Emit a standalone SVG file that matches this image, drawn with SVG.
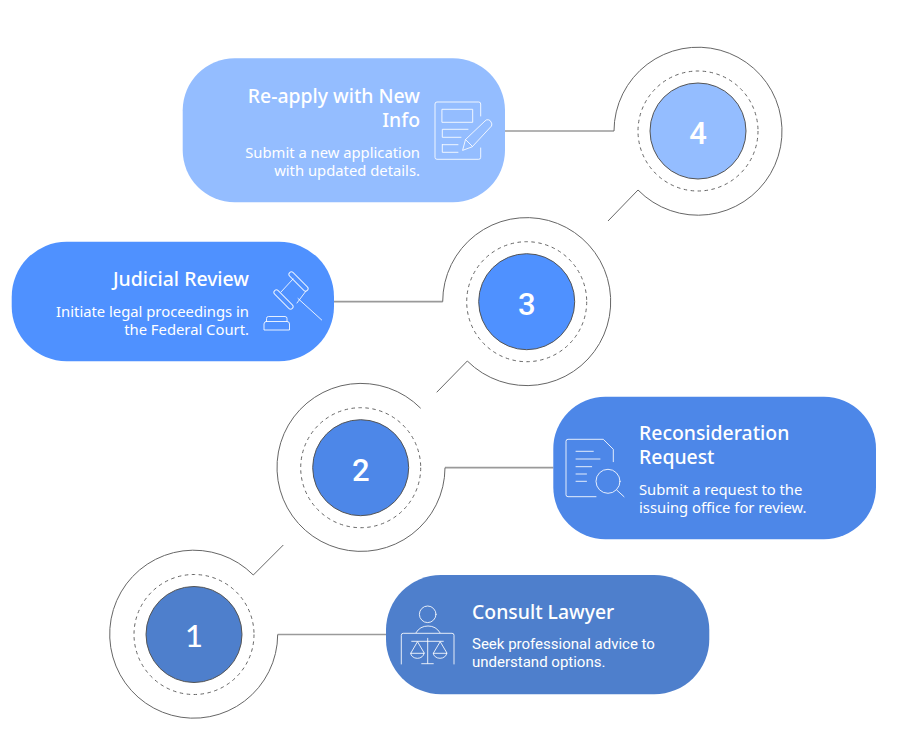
<svg xmlns="http://www.w3.org/2000/svg" width="901" height="741" viewBox="0 0 901 741">
<style>
text{font-family:"Noto Sans","Liberation Sans",sans-serif;fill:#fff}
.h{font-size:19.4px;font-weight:500}
.b{font-size:14.8px}
.r{font-family:Roboto,"Noto Sans",sans-serif;font-size:15px}
.e{text-anchor:end}
.n{font-family:Roboto,"Noto Sans",sans-serif;font-size:31px;font-weight:500;text-anchor:middle}
.n1{font-family:Lato,"Noto Sans",sans-serif}
.ic{fill:none;stroke:#fff;stroke-opacity:.85;stroke-width:1;stroke-linecap:round;stroke-linejoin:round}
.out{fill:none;stroke:#666;stroke-width:1}
.dash{fill:none;stroke:#666;stroke-width:1;stroke-dasharray:3.500 3.500}
.disc{stroke:#555;stroke-width:1}
.link{fill:none;stroke:#9a9a9a;stroke-width:1.700}
</style>
<rect width="901" height="741" fill="#fff"/>
<g id="connectors">
<path class="link" d="M505 131H614"/>
<path class="link" d="M334 301.700H442.700"/>
<path class="link" d="M445 467.700H553.500"/>
<path class="link" d="M277.700 634.500H386"/>
<path class="out" d="M614 131A84 84 0 1 1 638 190L608 221"/>
<path class="out" d="M442.700 301.700A84 84 0 1 1 467.300 361L436.700 392.300"/>
<path class="out" d="M445 467.700A84 84 0 1 1 420.700 408.300"/>
<path class="out" d="M277.700 634.500A84 84 0 1 1 253.300 575L283.300 545"/>
</g>
<g id="step-1">
<circle class="dash" cx="194" cy="634.500" r="60"/>
<circle class="disc" cx="194" cy="634.500" r="48" fill="#4E7FCC"/>
<text class="n n1" x="194" y="647">1</text>
</g>
<g id="step-2">
<circle class="dash" cx="360.700" cy="467.700" r="60"/>
<circle class="disc" cx="360.700" cy="467.700" r="48" fill="#4D87E8"/>
<text class="n" x="360.700" y="480.500">2</text>
</g>
<g id="step-3">
<circle class="dash" cx="526.700" cy="301.700" r="60"/>
<circle class="disc" cx="526.700" cy="301.700" r="48" fill="#4F91FF"/>
<text class="n" x="526.700" y="314.500">3</text>
</g>
<g id="step-4">
<circle class="dash" cx="698" cy="131" r="60"/>
<circle class="disc" cx="698" cy="131" r="48" fill="#94BDFF"/>
<text class="n" x="698" y="144">4</text>
</g>
<g id="node-reapply">
<rect x="182.700" y="58.300" width="322.300" height="144" rx="52" fill="#94BDFF"/>
<text class="h e" x="420" y="103">Re-apply with New</text>
<text class="h e" x="420" y="127">Info</text>
<text class="b e" x="420" y="158">Submit a new application</text>
<text class="b e" x="420" y="176">with updated details.</text>
<g class="ic">
<path d="M480.700 116V104a2 2 0 0 0-2-2H437a2 2 0 0 0-2 2V157.300a2 2 0 0 0 2 2H478.700a2 2 0 0 0 2-2V148"/>
<rect x="442.300" y="109.300" width="30.400" height="13"/>
<path d="M468 129.300H442.300V137.300H461M442.300 144.700V152.300H458M442.300 144.700H458"/>
<path d="M462.700 150L465.500 139.500L485 121a3.500 3.500 0 0 1 6 1a4 4 0 0 1 .5 4L472.500 146.500ZM465.500 139.500L472.500 146.500"/>
</g>
</g>
<g id="node-judicial">
<rect x="11.700" y="241.700" width="322.300" height="119.500" rx="55" fill="#4F91FF"/>
<text class="h e" x="249" y="286">Judicial Review</text>
<text class="b e" x="249" y="317">Initiate legal proceedings in</text>
<text class="b e" x="249" y="335">the Federal Court.</text>
<g class="ic">
<path d="M298 298.500L321.700 320"/>
<rect x="286" y="279" width="25" height="5" rx="2.500" transform="rotate(45 298.500 281.500)"/>
<rect x="271" y="297" width="25" height="5" rx="2.500" transform="rotate(45 283.500 299.500)"/>
<path d="M281 292L293 279M297 303L306 291"/>
<path d="M266.500 321.500V318.500a2 2 0 0 1 2-2H285a2 2 0 0 1 2 2V321.500M266 321.500H287a2.500 2.500 0 0 1 2.500 2.500V330H264V324a2.500 2.500 0 0 1 2-2.500"/>
</g>
</g>
<g id="node-reconsideration">
<rect x="553.300" y="396.700" width="322.700" height="142.600" rx="52" fill="#4D87E8"/>
<text class="h" x="639" y="440">Reconsideration</text>
<text class="h" x="639" y="464">Request</text>
<text class="b" x="639" y="495">Submit a request to the</text>
<text class="b" x="639" y="513">issuing office for review.</text>
<g class="ic">
<path d="M613.300 461.700V449.300L603.300 439.300H568a2 2 0 0 0-2 2V494.700a2 2 0 0 0 2 2H596"/>
<path d="M576 451.300H593.300M576 459H600M576 466.700H591.700M576 474H586.500M576 481.300H586.500"/>
<circle cx="608" cy="481.300" r="12"/>
<path d="M616.700 490L624 496.700"/>
</g>
</g>
<g id="node-consult">
<rect x="386" y="575" width="323.300" height="119.300" rx="55" fill="#4E7FCC"/>
<text class="h" x="472" y="619">Consult Lawyer</text>
<text class="r" x="472" y="649">Seek professional advice to</text>
<text class="r" x="472" y="667">understand options.</text>
<g class="ic">
<circle cx="427.700" cy="614.300" r="8.300"/>
<path d="M416 632.700Q420 626 428 626T440 632.700"/>
<path d="M401.300 664V635.300a2 2 0 0 1 2-2H452a2 2 0 0 1 2 2V664"/>
<path d="M411.700 641.300H443.300M427.700 638.300V663.300M421.700 663.700H433.300"/>
<path d="M417.300 642L410.700 653.300H424ZM410.700 653.300a6.600 5 0 0 0 13.300 0"/>
<path d="M440 642L433.300 653.300H446.700ZM433.300 653.300a6.700 5 0 0 0 13.400 0"/>
</g>
</g>
</svg>
